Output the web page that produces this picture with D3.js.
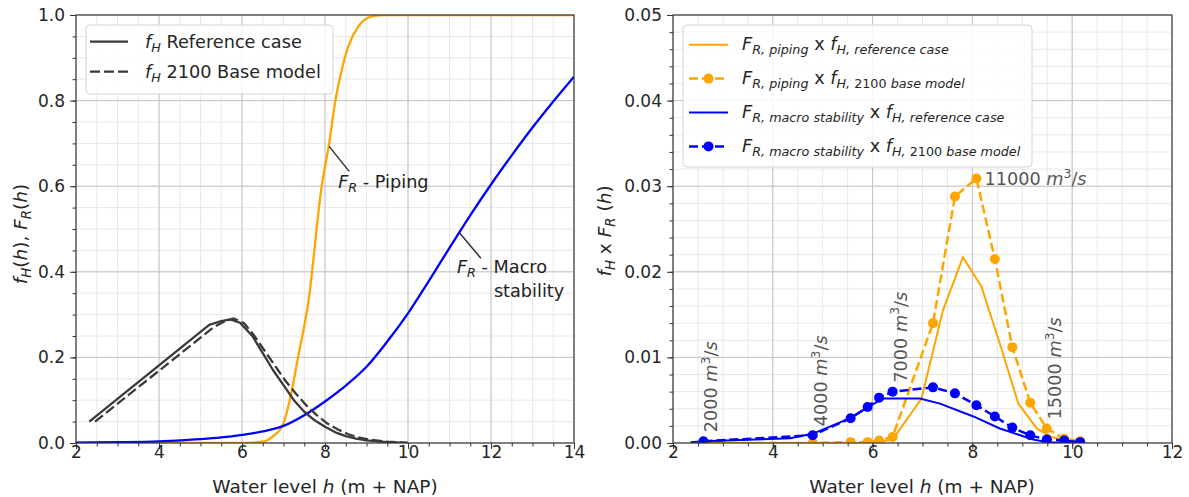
<!DOCTYPE html>
<html>
<head>
<meta charset="utf-8">
<script src="https://cdn.jsdelivr.net/npm/d3@7"></script>
<style>
  body { margin: 0; background: #fff; }
  svg { font-family: "DejaVu Sans", sans-serif; }
</style>
</head>
<body>
<div id="chart"></div>
<script>
// ---- left panel data: f_H and fragility curves F_R ----
var hFhRef = [2.32, 5.21, 5.5, 5.72, 5.95, 6.25, 6.5, 6.75, 7.0, 7.25, 7.5, 7.75, 8.0, 8.25, 8.5, 8.75, 9.0, 9.5, 10.0];
var fhRef = [0.05, 0.276, 0.285, 0.289, 0.281, 0.25, 0.21, 0.17, 0.135, 0.1, 0.073, 0.053, 0.038, 0.025, 0.016, 0.01, 0.006, 0.002, 0.0];
var hFhBase = [2.46, 5.31, 5.55, 5.79, 6.05, 6.3, 6.55, 6.8, 7.05, 7.3, 7.55, 7.8, 8.05, 8.3, 8.55, 8.8, 9.05, 9.5, 10.0];
var fhBase = [0.05, 0.27, 0.283, 0.291, 0.28, 0.25, 0.215, 0.18, 0.145, 0.115, 0.088, 0.065, 0.046, 0.032, 0.021, 0.013, 0.008, 0.003, 0.0];

var hPiping = [2, 6.0, 6.5, 6.75, 7.0, 7.15, 7.35, 7.6, 7.92, 8.1, 8.25, 8.4, 8.56, 8.8, 9.0, 9.3, 9.5, 14];
var frPiping = [0, 0, 0.003, 0.016, 0.046, 0.1, 0.2, 0.33, 0.6, 0.7, 0.8, 0.87, 0.926, 0.973, 0.992, 0.999, 1.0, 1.0];
var hMacro = [2, 3, 4, 5, 5.5, 6, 6.5, 7, 7.5, 8, 8.5, 9, 9.5, 10, 10.5, 11, 11.5, 12, 12.5, 13, 13.5, 14];
var frMacro = [0.001, 0.002, 0.004, 0.009, 0.013, 0.019, 0.027, 0.04, 0.065, 0.097, 0.134, 0.178, 0.237, 0.303, 0.378, 0.456, 0.532, 0.604, 0.672, 0.737, 0.798, 0.856];

// ---- right panel data: f_H x F_R ----
var hPipRef = [2.35, 6.0, 6.4, 6.98, 7.41, 7.81, 8.18, 8.55, 8.92, 9.29, 9.59, 10.03, 10.16];
var pipRef = [0, 0, 0.0004, 0.0052, 0.0155, 0.0217, 0.0183, 0.0116, 0.0046, 0.0017, 0.0007, 0.0001, 0];
var hBase = [2.61, 4.80, 5.56, 5.90, 6.13, 6.40, 7.21, 7.65, 8.08, 8.45, 8.80, 9.16, 9.49, 9.84, 10.16];
var pipBase = [0, 0, 0.0001, 0.0001, 0.0003, 0.0007, 0.014, 0.0288, 0.0309, 0.0215, 0.0112, 0.0047, 0.0017, 0.0005, 0.0002];
var macBase = [0.0002, 0.0009, 0.0029, 0.0042, 0.0053, 0.006, 0.0065, 0.0058, 0.0044, 0.0031, 0.0018, 0.0009, 0.0004, 0.0003, 0.0001];
var hMacRef = [2.35, 2.61, 4.35, 4.81, 5.55, 5.91, 6.21, 6.95, 7.35, 8.02, 8.55, 9.22, 9.5, 10.16];
var macRef = [0.0001, 0.0002, 0.00055, 0.0011, 0.0029, 0.0042, 0.0052, 0.0052, 0.0046, 0.0031, 0.0017, 0.0004, 0.0001, 0];

// discharge labels on the 2100 curves
var qLabels = ["2000", "4000", "7000", "11000", "15000"];
var qIndex = [0, 1, 5, 8, 12];
var qSeries = ["mac", "mac", "mac", "pip", "pip"];

var leftTicksX = [2, 4, 6, 8, 10, 12, 14];
var leftTicksY = [0, 0.2, 0.4, 0.6, 0.8, 1.0];
var rightTicksX = [2, 4, 6, 8, 10, 12];
var rightTicksY = [0, 0.01, 0.02, 0.03, 0.04, 0.05];

var ORANGE = "#ffa500";
var BLUE = "#0000ff";
var DARK = "#3a3a3a";
var FS = 17;      // ticks
var FL = 17.7;    // legend + notes
var FA = 18.5;    // axis labels

var width = 1189, height = 497;

var svg = d3.select("#chart").append("svg")
  .attr("width", width)
  .attr("height", height);

svg.append("rect").attr("width", width).attr("height", height).attr("fill", "#fff");

var xL = d3.scaleLinear().domain([2, 14]).range([76, 574]);
var yL = d3.scaleLinear().domain([0, 1]).range([443, 15]);
var xR = d3.scaleLinear().domain([2, 12]).range([673, 1172]);
var yR = d3.scaleLinear().domain([0, 0.05]).range([443, 15]);

function pairs(xs, ys) {
  return xs.map(function(v, i) { return [v, ys[i]]; });
}

// writes mathtext-ish pieces: r = roman, i = italic, sub / subr = subscript, sup = superscript
function mathText(t, parts, size) {
  var shift = 0;
  parts.forEach(function(p) {
    var kind = p[1];
    var ts = t.append("tspan").text(p[0]);
    var target = 0;
    var fs = size;
    if (kind == "sub" || kind == "subr") { target = size * 0.22; fs = size * 0.72; }
    if (kind == "sup") { target = -size * 0.4; fs = size * 0.7; }
    ts.attr("font-size", fs)
      .attr("font-style", (kind == "i" || kind == "sub") ? "italic" : "normal");
    if (target != shift) { ts.attr("dy", target - shift); shift = target; }
  });
  return t;
}

function panel(x, y, majX, majY, minStepX, minStepY, fmt, id) {
  var g = svg.append("g");
  var x0 = x.range()[0], x1 = x.range()[1], y0 = y.range()[0], y1 = y.range()[1];
  var minX = d3.range(x.domain()[0], x.domain()[1] + 1e-9, minStepX);
  var minY = d3.range(y.domain()[0], y.domain()[1] + 1e-9, minStepY);

  // minor grid then major grid
  g.selectAll(".mgx").data(minX).enter().append("line")
    .attr("x1", d => x(d)).attr("x2", d => x(d)).attr("y1", y0).attr("y2", y1)
    .attr("stroke", "#e8e8e8").attr("stroke-width", 1);
  g.selectAll(".mgy").data(minY).enter().append("line")
    .attr("y1", d => y(d)).attr("y2", d => y(d)).attr("x1", x0).attr("x2", x1)
    .attr("stroke", "#e8e8e8").attr("stroke-width", 1);
  g.selectAll(".Mgx").data(majX).enter().append("line")
    .attr("x1", d => x(d)).attr("x2", d => x(d)).attr("y1", y0).attr("y2", y1)
    .attr("stroke", "#c4c4c4").attr("stroke-width", 1);
  g.selectAll(".Mgy").data(majY).enter().append("line")
    .attr("y1", d => y(d)).attr("y2", d => y(d)).attr("x1", x0).attr("x2", x1)
    .attr("stroke", "#c4c4c4").attr("stroke-width", 1);

  // ticks
  var bx = g.append("g").attr("transform", "translate(0," + y0 + ")")
    .call(d3.axisBottom(x).tickValues(minX).tickSize(3.5).tickFormat(""));
  var bX = g.append("g").attr("transform", "translate(0," + y0 + ")")
    .call(d3.axisBottom(x).tickValues(majX).tickSize(6).tickFormat(d3.format("d")));
  var ly = g.append("g").attr("transform", "translate(" + x0 + ",0)")
    .call(d3.axisLeft(y).tickValues(minY).tickSize(3.5).tickFormat(""));
  var lY = g.append("g").attr("transform", "translate(" + x0 + ",0)")
    .call(d3.axisLeft(y).tickValues(majY).tickSize(6).tickPadding(5).tickFormat(d3.format(fmt)));
  [bx, bX, ly, lY].forEach(function(a) {
    a.select(".domain").remove();
    a.selectAll("line").attr("stroke", "#333");
    a.selectAll("text").attr("font-family", "DejaVu Sans").attr("font-size", FS).attr("fill", "#262626");
  });
  bX.selectAll("text").attr("y", 15).attr("dy", 0);

  svg.append("clipPath").attr("id", id).append("rect")
    .attr("x", x0).attr("y", y1).attr("width", x1 - x0).attr("height", y0 - y1);
  return g;
}

var gL = panel(xL, yL, leftTicksX, leftTicksY, 0.5, 0.05, ".1f", "clipL");
var gR = panel(xR, yR, rightTicksX, rightTicksY, 0.5, 0.002, ".2f", "clipR");

// ---- left curves ----
var lineL = d3.line().x(d => xL(d[0])).y(d => yL(d[1])).curve(d3.curveMonotoneX);
var lineLk = d3.line().x(d => xL(d[0])).y(d => yL(d[1]));
var cl = svg.append("g").attr("clip-path", "url(#clipL)");

cl.append("path").attr("d", lineL(pairs(hPiping, frPiping)))
  .attr("fill", "none").attr("stroke", ORANGE).attr("stroke-width", 2.3);
cl.append("path").attr("d", lineL(pairs(hMacro, frMacro)))
  .attr("fill", "none").attr("stroke", BLUE).attr("stroke-width", 2.3);
cl.append("path").attr("d", lineLk(pairs(hFhRef, fhRef)))
  .attr("fill", "none").attr("stroke", DARK).attr("stroke-width", 2.3).attr("stroke-linejoin", "round");
cl.append("path").attr("d", lineLk(pairs(hFhBase, fhBase)))
  .attr("fill", "none").attr("stroke", DARK).attr("stroke-width", 2.3)
  .attr("stroke-dasharray", "10,4");

// annotation lines for the fragility curves
var notes = [
  { h: 8.1, v: 0.693, dx: 20, dy: 25, lines: [[["F", "i"], ["R", "sub"], [" - Piping", "r"]]], tx: 9, ty: 42 },
  { h: 11.25, v: 0.49, dx: 21, dy: 25, lines: [[["F", "i"], ["R", "sub"], [" - Macro", "r"]], [[" stability", "r"]]], tx: -3, ty: 40 }
];
notes.forEach(function(n) {
  var px = xL(n.h), py = yL(n.v);
  svg.append("line").attr("x1", px).attr("y1", py).attr("x2", px + n.dx).attr("y2", py + n.dy)
    .attr("stroke", "#333").attr("stroke-width", 1.5);
  n.lines.forEach(function(parts, i) {
    var t = svg.append("text").attr("x", px + n.tx + (i ? 37 : 0)).attr("y", py + n.ty + i * 24)
      .attr("fill", "#222").attr("font-size", FL);
    mathText(t, parts, FL);
  });
});

// ---- right curves ----
var lineR = d3.line().x(d => xR(d[0])).y(d => yR(d[1]));
var cr = svg.append("g").attr("clip-path", "url(#clipR)");

cr.append("path").attr("d", lineR(pairs(hPipRef, pipRef)))
  .attr("fill", "none").attr("stroke", ORANGE).attr("stroke-width", 2);
cr.append("path").attr("d", lineR(pairs(hBase, pipBase)))
  .attr("fill", "none").attr("stroke", ORANGE).attr("stroke-width", 2.5).attr("stroke-dasharray", "9,4");
cr.selectAll(".po").data(pairs(hBase, pipBase)).enter().append("circle")
  .attr("cx", d => xR(d[0])).attr("cy", d => yR(d[1])).attr("r", 5).attr("fill", ORANGE);
cr.append("path").attr("d", lineR(pairs(hMacRef, macRef)))
  .attr("fill", "none").attr("stroke", BLUE).attr("stroke-width", 2);
cr.append("path").attr("d", lineR(pairs(hBase, macBase)))
  .attr("fill", "none").attr("stroke", BLUE).attr("stroke-width", 2.5).attr("stroke-dasharray", "9,4");
cr.selectAll(".pb").data(pairs(hBase, macBase)).enter().append("circle")
  .attr("cx", d => xR(d[0])).attr("cy", d => yR(d[1])).attr("r", 5).attr("fill", BLUE);

// discharge labels
qLabels.forEach(function(q, i) {
  var k = qIndex[i];
  var v = qSeries[i] == "mac" ? macBase[k] : pipBase[k];
  var px = xR(hBase[k]), py = yR(v);
  var t = svg.append("text").attr("fill", "#555").attr("font-size", FL);
  if (q == "11000") {
    t.attr("x", px + 8).attr("y", py + 7);
  } else {
    t.attr("transform", "translate(" + (px + 14) + "," + (py - 9) + ") rotate(-90)");
  }
  mathText(t, [[q + " ", "r"], ["m", "i"], ["3", "sup"], ["/", "r"], ["s", "i"]], FL);
});

// ---- frames ----
svg.append("rect").attr("x", 76).attr("y", 15).attr("width", 498).attr("height", 428)
  .attr("fill", "none").attr("stroke", "#333").attr("stroke-width", 1.1);
svg.append("rect").attr("x", 673).attr("y", 15).attr("width", 499).attr("height", 428)
  .attr("fill", "none").attr("stroke", "#333").attr("stroke-width", 1.1);

// ---- axis labels ----
[325, 922].forEach(function(cx) {
  var t = svg.append("text").attr("x", cx).attr("y", 493).attr("text-anchor", "middle")
    .attr("fill", "#262626").attr("font-size", FA);
  mathText(t, [["Water level ", "r"], ["h", "i"], [" (m + NAP)", "r"]], FA);
});
var yl = svg.append("text").attr("transform", "translate(27,234) rotate(-90)")
  .attr("text-anchor", "middle").attr("fill", "#262626").attr("font-size", FA);
mathText(yl, [["f", "i"], ["H", "sub"], ["(", "r"], ["h", "i"], ["), ", "r"], ["F", "i"], ["R", "sub"], ["(", "r"], ["h", "i"], [")", "r"]], FA);
var yr = svg.append("text").attr("transform", "translate(611,231) rotate(-90)")
  .attr("text-anchor", "middle").attr("fill", "#262626").attr("font-size", FA);
mathText(yr, [["f", "i"], ["H", "sub"], [" x ", "r"], ["F", "i"], ["R", "sub"], [" (", "r"], ["h", "i"], [")", "r"]], FA);

// ---- legends ----
var legL = svg.append("g");
legL.append("rect").attr("x", 86).attr("y", 25).attr("width", 247).attr("height", 69).attr("rx", 4)
  .attr("fill", "#fff").attr("fill-opacity", 0.85).attr("stroke", "#d4d4d4");
var legLRows = [
  { dash: null, parts: [["f", "i"], ["H", "sub"], [" Reference case", "r"]] },
  { dash: "10,4", parts: [["f", "i"], ["H", "sub"], [" 2100 Base model", "r"]] }
];
legLRows.forEach(function(r, i) {
  var cy = 41.7 + i * 30;
  legL.append("line").attr("x1", 90).attr("x2", 128).attr("y1", cy).attr("y2", cy)
    .attr("stroke", DARK).attr("stroke-width", 2.3).attr("stroke-dasharray", r.dash);
  var t = legL.append("text").attr("x", 145).attr("y", cy + 6).attr("fill", "#262626").attr("font-size", FL);
  mathText(t, r.parts, FL);
});

var legR = svg.append("g");
legR.append("rect").attr("x", 683).attr("y", 25).attr("width", 349).attr("height", 142).attr("rx", 4)
  .attr("fill", "#fff").attr("fill-opacity", 0.85).attr("stroke", "#d4d4d4");
var legRRows = [
  { color: ORANGE, dash: null, mk: false, a: "R, piping", b: [["H, reference case", "sub"]] },
  { color: ORANGE, dash: "9,4", mk: true, a: "R, piping", b: [["H, ", "sub"], ["2100", "subr"], [" base model", "sub"]] },
  { color: BLUE, dash: null, mk: false, a: "R, macro stability", b: [["H, reference case", "sub"]] },
  { color: BLUE, dash: "9,4", mk: true, a: "R, macro stability", b: [["H, ", "sub"], ["2100", "subr"], [" base model", "sub"]] }
];
legRRows.forEach(function(r, i) {
  var cy = 44.7 + i * 33.9;
  legR.append("line").attr("x1", 689).attr("x2", 728).attr("y1", cy).attr("y2", cy)
    .attr("stroke", r.color).attr("stroke-width", r.mk ? 2.5 : 2).attr("stroke-dasharray", r.dash);
  if (r.mk) legR.append("circle").attr("cx", 708.5).attr("cy", cy).attr("r", 5).attr("fill", r.color);
  var t = legR.append("text").attr("x", 742).attr("y", cy + 5.5).attr("fill", "#262626").attr("font-size", FL);
  mathText(t, [["F", "i"], [r.a, "sub"], [" x ", "r"], ["f", "i"]].concat(r.b), FL);
});
</script>
</body>
</html>
